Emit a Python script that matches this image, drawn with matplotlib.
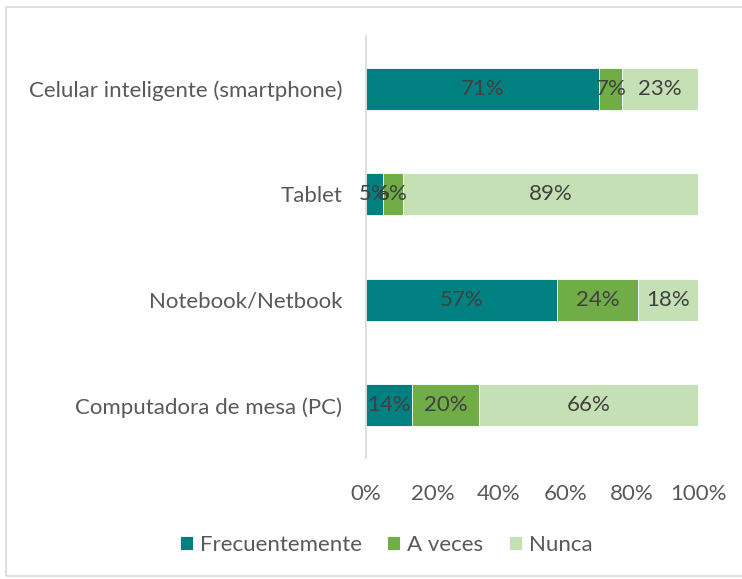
import matplotlib
matplotlib.use("Agg")
import matplotlib.pyplot as plt
from matplotlib.patches import Rectangle
import numpy as np

categories = ["Celular inteligente (smartphone)", "Tablet", "Notebook/Netbook", "Computadora de mesa (PC)"]
series_names = ["Frecuentemente", "A veces", "Nunca"]
frecuentemente = [71, 5, 57, 14]
a_veces = [7, 6, 24, 20]
nunca = [23, 89, 18, 66]
colors = ["#008080", "#70AD47", "#C5E0B4"]
xticks = [0, 20, 40, 60, 80, 100]

plt.rcParams['font.family'] = ['Lato', 'DejaVu Sans']
FS = 16

fig = plt.figure(figsize=(7.42, 5.79), dpi=100)
ax = fig.add_axes([366/742, 1-458/579, (698-366)/742, (458-36)/579])

data = np.array([frecuentemente, a_veces, nunca], dtype=float)
totals = data.sum(axis=0)
pct = data / totals * 100
y = np.arange(len(categories))
left = np.zeros(len(categories))
for i, name in enumerate(series_names):
    ax.barh(y, pct[i], left=left, height=0.4, color=colors[i], label=name,
            edgecolor='white', linewidth=0.6)
    for j in range(len(categories)):
        ax.text(left[j] + pct[i][j] / 2, y[j], f"{int(data[i][j])}%",
                ha='center', va='center', fontsize=FS, color='#404040')
    left += pct[i]

ax.set_ylim(3.5, -0.5)
ax.set_xlim(0, 100)
ax.set_yticks(y)
ax.set_yticklabels(categories, fontsize=FS, color='#595959')
ax.set_xticks(xticks)
ax.set_xticklabels([f"{v}%" for v in xticks], fontsize=FS, color='#595959')
ax.tick_params(axis='both', length=0)
ax.tick_params(axis='y', pad=17)
ax.tick_params(axis='x', pad=19)
for s in ['top', 'right', 'bottom']:
    ax.spines[s].set_visible(False)
ax.spines['left'].set_color('#D9D9D9')
ax.spines['left'].set_linewidth(1.2)

fig.legend(loc='center', bbox_to_anchor=(386/742, 1-545/579), ncol=3, frameon=False,
           fontsize=FS, handlelength=0.6, handleheight=0.6, handletextpad=0.3,
           columnspacing=1.15, labelcolor='#595959')

fig.patches.append(Rectangle((6/742, 1-576/579), 740/742, 569/579, transform=fig.transFigure,
                             fill=False, edgecolor='#D9D9D9', linewidth=1.2))

fig.savefig("out.png", dpi=100)
